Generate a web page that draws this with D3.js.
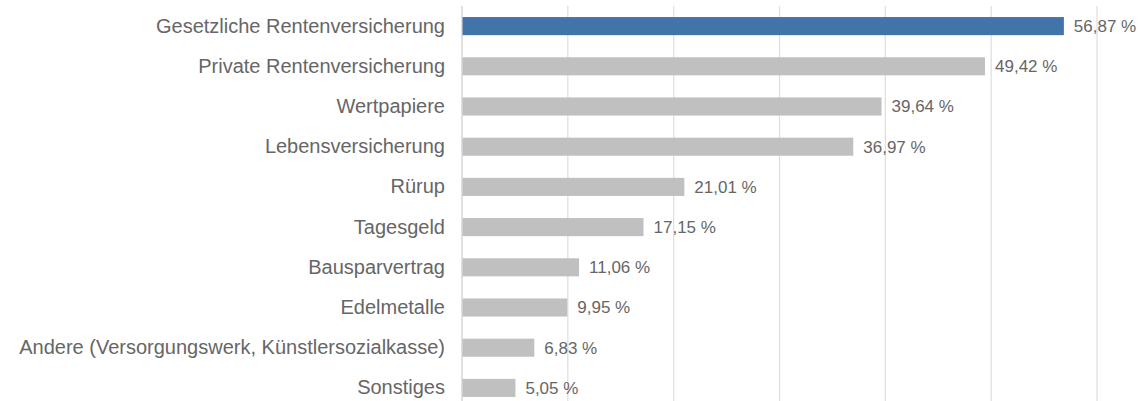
<!DOCTYPE html>
<html>
<head>
<meta charset="utf-8">
<script src="https://cdn.jsdelivr.net/npm/d3@7"></script>
<style>
  html, body { margin: 0; padding: 0; background: #fff; }
  svg { display: block; }
</style>
</head>
<body>
<script>
// Altersvorsorge: Anteil der Befragten je Vorsorgeform (in %)
const categories = [
  "Gesetzliche Rentenversicherung",
  "Private Rentenversicherung",
  "Wertpapiere",
  "Lebensversicherung",
  "Rürup",
  "Tagesgeld",
  "Bausparvertrag",
  "Edelmetalle",
  "Andere (Versorgungswerk, Künstlersozialkasse)",
  "Sonstiges"
];
const values = [56.87, 49.42, 39.64, 36.97, 21.01, 17.15, 11.06, 9.95, 6.83, 5.05];
const gridTicks = [0, 10, 20, 30, 40, 50, 60];

const W = 1142, H = 401;
const margin = { top: 6, left: 462 };
const plotRight = 1097;

const svg = d3.select("body").append("svg")
  .attr("width", W).attr("height", H);

const x = d3.scaleLinear().domain([0, 60]).range([margin.left, plotRight]);
const y = d3.scaleBand().domain(categories)
  .range([margin.top, margin.top + 40.2 * categories.length])
  .paddingInner(0.55).paddingOuter(0.275);

// vertical gridlines
svg.append("g").selectAll("line").data(gridTicks).join("line")
  .attr("x1", d => x(d)).attr("x2", d => x(d))
  .attr("y1", margin.top).attr("y2", H)
  .attr("stroke", d => d === 0 ? "#d0d0d0" : "#e0e0e0")
  .attr("stroke-width", 1.3);

// bars
svg.append("g").selectAll("rect").data(values).join("rect")
  .attr("x", x(0) + 0.5)
  .attr("y", (d, i) => y(categories[i]))
  .attr("width", d => x(d) - x(0) - 0.5)
  .attr("height", y.bandwidth())
  .attr("fill", (d, i) => i === 0 ? "#4174a8" : "#c0c0c0");

// category labels
const yAxis = d3.axisLeft(y).tickSize(0).tickPadding(17);
const ya = svg.append("g").attr("transform", `translate(${x(0)},0)`).call(yAxis);
ya.select(".domain").remove();
ya.selectAll("text")
  .attr("font-family", "'Liberation Sans', Arial, Helvetica, sans-serif")
  .attr("font-size", 20)
  .attr("fill", "#666666");

// value labels
svg.append("g").selectAll("text").data(values).join("text")
  .attr("x", d => x(d) + 10)
  .attr("y", (d, i) => y(categories[i]) + y.bandwidth() / 2)
  .attr("dy", "0.35em")
  .attr("font-family", "'Liberation Sans', Arial, Helvetica, sans-serif")
  .attr("font-size", 17)
  .attr("fill", "#666666")
  .text(d => d.toFixed(2).replace(".", ",") + " %");
</script>
</body>
</html>
